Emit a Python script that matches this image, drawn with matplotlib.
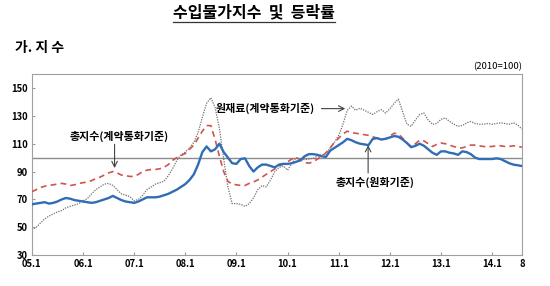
import matplotlib
matplotlib.use("Agg")
import matplotlib.pyplot as plt
from matplotlib.lines import Line2D

plt.rcParams['font.family'] = ['Noto Sans CJK KR', 'DejaVu Sans']

# 2005.1 ~ 2014.8 월별 지수 (2010=100)
total_krw = [66.5, 67, 67.5, 68, 67, 67.5, 68.5, 70, 71, 70.5, 69.5, 69,
             68.5, 68, 67.5, 68, 69, 70, 71, 72.5, 71, 69.5, 68.5, 68,
             67.5, 68.5, 70, 71.5, 71.5, 71.5, 72, 73, 74, 75.5, 77, 79,
             81, 84, 88, 95, 104, 108, 104.5, 106, 110, 104, 100, 96,
             95.5, 99, 99.5, 94, 90, 93, 95, 95, 94, 93, 95, 95.5,
             95.5, 96, 97, 98, 101, 102.5, 102.5, 102, 101, 100.5, 105, 107,
             109, 111, 113.5, 112.5, 111, 110, 109.5, 109, 113.5, 114, 113, 113.5,
             114.5, 115.5, 115, 113, 110.5, 107.5, 108.5, 110, 108.5, 106, 103.5, 102,
             104.5, 104.5, 103.5, 103, 102, 104.5, 104, 102.5, 100, 99, 99, 99,
             99, 99.5, 99, 97.5, 96, 95, 94.5, 94]

total_contract = [75.5, 77, 78.5, 79.5, 80, 80.5, 81, 81.5, 81, 80, 80.5, 81.5,
                  82, 82.5, 83.5, 85, 86, 87.5, 89, 90, 89, 87.5, 87, 86.5,
                  86.5, 88, 90, 91, 91.5, 91.5, 92, 93, 95, 98, 100, 101.5,
                  103, 106, 109, 114, 119, 123, 123, 113, 101, 90, 83, 81,
                  80.5, 80, 80, 81.5, 82.5, 84, 86, 88, 90, 92, 94, 95.5,
                  97, 99, 100, 98.5, 96.5, 96, 97, 99, 100.5, 103.5, 107, 111,
                  114, 117, 119, 118, 117.5, 117, 116.5, 116, 115, 114, 113, 113.5,
                  115.5, 117.5, 117, 114, 110.5, 108, 110, 112.5, 112, 110, 108, 109.5,
                  110.5, 110, 109, 108, 107, 107, 108, 109, 109, 108.5, 108, 108,
                  108, 108.5, 108.5, 108, 108, 108.5, 108, 107.5]

raw_contract = [48, 50, 53, 56, 58, 59.5, 61, 62, 64, 65, 66, 67,
                69, 70.5, 74, 77, 79, 81, 81.5, 80, 77, 74, 73, 72,
                69, 70, 73, 77, 79, 81, 82, 83, 87, 92, 98, 102,
                104, 107, 111, 118, 129, 139, 143, 136, 121, 99, 79, 67,
                67, 66.5, 65, 67, 71, 77, 80, 79, 84, 90, 93, 94,
                91, 96, 100, 99, 98.5, 99, 99.5, 101, 102, 103, 107, 111,
                116, 124, 134, 137, 134, 135.5, 134, 132.5, 131, 133, 134.5, 132,
                135, 139, 142, 133, 124, 122.5, 127, 131, 132, 127, 124, 124.5,
                127.5, 128.5, 126, 124, 122.5, 123, 125, 126, 124.5, 124, 124, 124.5,
                124, 124.5, 125, 124.5, 124, 125, 123.5, 120.5]

tick_pos = [0, 12, 24, 36, 48, 60, 72, 84, 96, 108, 115]
tick_labels = ['05.1', '06.1', '07.1', '08.1', '09.1', '10.1', '11.1', '12.1', '13.1', '14.1', '8']

months = list(range(len(total_krw)))

fig = plt.figure(figsize=(5.5, 2.86), dpi=100)
ax = fig.add_axes([0.058, 0.108, 0.891, 0.633])

ax.axhline(100, color='#8c8c8c', linewidth=1.0, zorder=1)
ax.plot(months, raw_contract, color='#707070', linestyle=(0, (1, 1)), linewidth=0.9, zorder=2)
ax.plot(months, total_contract, color='#d0534e', linestyle=(0, (3.5, 2.5)), linewidth=1.2, zorder=3)
ax.plot(months, total_krw, color='#2f6db5', linewidth=1.7, zorder=4)

ax.set_xlim(0, 115)
ax.set_ylim(30, 160)
ax.set_yticks([30, 50, 70, 90, 110, 130, 150])
ax.set_xticks(tick_pos)
ax.set_xticklabels(tick_labels)
ax.tick_params(axis='both', labelsize=6.8, length=2, direction='in', color='#999999', pad=3)
for lab in ax.get_xticklabels() + ax.get_yticklabels():
    lab.set_fontweight('bold')
for s in ax.spines.values():
    s.set_color('#a0a0a0')
    s.set_linewidth(0.8)

# 주석
ax.text(20.5, 115.5, '총지수(계약통화기준)', fontsize=7.9, fontweight='bold',
        ha='center', va='center')
ax.annotate('', xy=(19.4, 90.5), xytext=(19.4, 111.5),
            arrowprops=dict(arrowstyle='->', color='#444444', lw=0.8))
ax.text(54.8, 135.2, '원재료(계약통화기준)', fontsize=7.9, fontweight='bold',
        ha='center', va='center')
ax.annotate('', xy=(74.2, 135.2), xytext=(67.3, 135.2),
            arrowprops=dict(arrowstyle='->', color='#444444', lw=0.8))
ax.text(80.5, 82.4, '총지수(원화기준)', fontsize=7.9, fontweight='bold',
        ha='center', va='center')
ax.annotate('', xy=(78.9, 111), xytext=(78.9, 87),
            arrowprops=dict(arrowstyle='->', color='#444444', lw=0.8))

title = fig.text(0.461, 0.955, '수입물가지수  및  등락률', fontsize=11.5, fontweight='bold',
                 ha='center', va='center')
fig.text(0.027, 0.832, '가. 지 수', fontsize=10, fontweight='bold', ha='left', va='center')
fig.text(0.949, 0.766, '(2010=100)', fontsize=6.8, ha='right', va='center')

# 제목 밑줄
fig.canvas.draw()
bb = title.get_window_extent().transformed(fig.transFigure.inverted())
fig.add_artist(Line2D([bb.x0, bb.x1], [bb.y0 - 0.004, bb.y0 - 0.004],
                      transform=fig.transFigure, color='#333333', linewidth=0.9))

fig.savefig('out.png', dpi=100)
